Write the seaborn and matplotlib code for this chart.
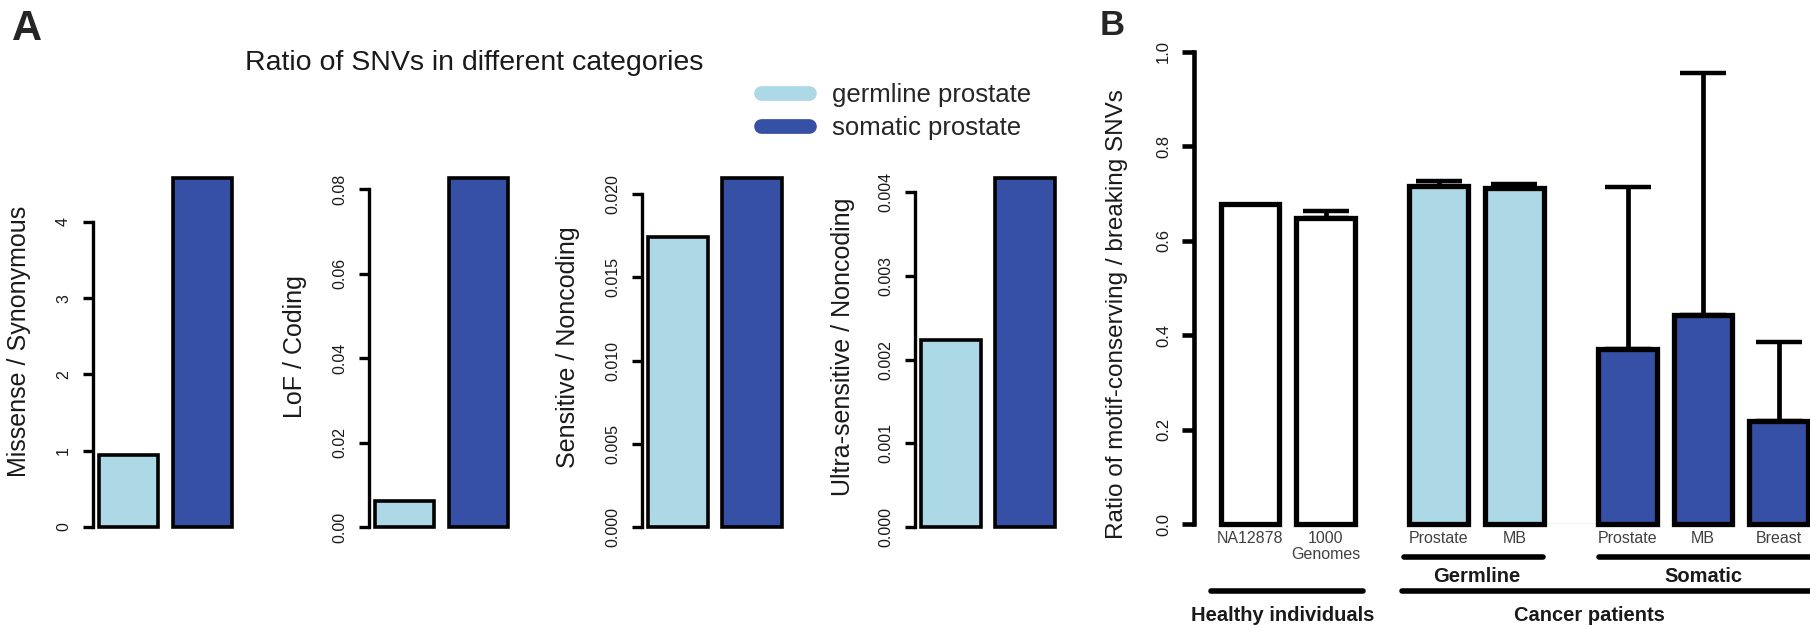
import numpy as np
import pandas as pd
import matplotlib
matplotlib.use("Agg")
import matplotlib.pyplot as plt
from matplotlib.lines import Line2D
from matplotlib.ticker import FixedLocator, FormatStrFormatter
import seaborn as sns

# ---------------- data: panel A (ratio of SNVs per category) ----------------
snv_groups = ["germline prostate", "somatic prostate"]
missense_synonymous = [0.944, 4.57]
lof_coding = [0.0062, 0.0826]
sensitive_noncoding = [0.01745, 0.02096]
ultra_sensitive_noncoding = [0.00223, 0.004167]
panel_a_ylabels = ["Missense / Synonymous", "LoF / Coding",
                   "Sensitive / Noncoding", "Ultra-sensitive / Noncoding"]
panel_a_ticks = [[0, 1, 2, 3, 4],
                 [0, 0.02, 0.04, 0.06, 0.08],
                 [0, 0.005, 0.010, 0.015, 0.020],
                 [0, 0.001, 0.002, 0.003, 0.004]]
panel_a_formats = ["%d", "%.2f", "%.3f", "%.3f"]

# ---------------- data: panel B (motif-conserving / breaking) ----------------
sample_labels = ["NA12878", "1000\nGenomes", "Prostate", "MB", "Prostate", "MB", "Breast"]
sample_groups = ["healthy", "healthy", "germline", "germline", "somatic", "somatic", "somatic"]
motif_ratio = [0.677, 0.647, 0.715, 0.712, 0.370, 0.443, 0.219]
motif_ratio_err = [None, 0.015, 0.011, 0.008, 0.344, 0.512, 0.166]
panel_b_ticks = [0.0, 0.2, 0.4, 0.6, 0.8, 1.0]

# ---------------- style ----------------
LIGHT = "#ADD8E6"
DARK = "#3550A5"
group_palette = {"healthy": "white", "germline": LIGHT, "somatic": DARK}

sns.set_theme(style="white")
plt.rcParams["font.family"] = ["Liberation Sans", "DejaVu Sans"]

W, H = 1810, 625
fig = plt.figure(figsize=(W / 100, H / 100), dpi=100)


def px_axes(left, top, right, bottom):
    return fig.add_axes([left / W, 1 - bottom / H, (right - left) / W, (bottom - top) / H])


def r_style_yaxis(ax, ticks, fmt, spine_w, tick_len, pad, size):
    for side in ("top", "right", "bottom"):
        ax.spines[side].set_visible(False)
    ax.spines["left"].set_bounds(ticks[0], ticks[-1])
    ax.spines["left"].set_linewidth(spine_w)
    ax.spines["left"].set_color("black")
    ax.yaxis.set_major_locator(FixedLocator(ticks))
    ax.yaxis.set_major_formatter(FormatStrFormatter(fmt))
    ax.tick_params(axis="y", left=True, length=tick_len, width=spine_w, color="black",
                   pad=pad, labelsize=size, labelcolor="#1a1a1a")
    plt.setp(ax.get_yticklabels(), rotation=90, va="center")
    ax.tick_params(axis="x", bottom=False, labelbottom=False)
    ax.set_xlabel("")
    ax.grid(False)


# ---------------- panel A ----------------
pitch_a = 74.0
first_a = 0.486
xmax_a = 1.6
axis_x_a = [92.5, 368.5, 642.0, 915.0]
label_y_a = [341, 347, 347, 347]
label_x_a = [19.1, 294.7, 567.9, 842.9]
series_a = [missense_synonymous, lof_coding, sensitive_noncoding, ultra_sensitive_noncoding]
top_a, base_a = 178.3, 527.0

for i, vals in enumerate(series_a):
    left = axis_x_a[i]
    right = left + (first_a + xmax_a) * pitch_a
    ax = px_axes(left, top_a, right, base_a)
    df = pd.DataFrame({"group": snv_groups, "value": vals})
    sns.barplot(data=df, x="group", y="value", hue="group",
                palette=[LIGHT, DARK], saturation=1, width=0.8, edgecolor="black",
                linewidth=2.6, legend=False, ax=ax)
    for p in ax.patches:
        p.set_clip_on(False)
    ax.set_xlim(-first_a, xmax_a)
    ax.set_ylim(0, max(vals))
    r_style_yaxis(ax, panel_a_ticks[i], panel_a_formats[i], 2.4, 7.2, 8.3, 11.5)
    ax.set_ylabel(panel_a_ylabels[i], fontsize=18, va="center", color="#1a1a1a")
    ax.yaxis.set_label_coords((label_x_a[i] - left) / (right - left),
                              (base_a - label_y_a[i]) / (base_a - top_a))

fig.text(474.5 / W, 1 - 70 / H, "Ratio of SNVs in different categories",
         ha="center", va="baseline", fontsize=20.5, color="#1a1a1a")

handles = [Line2D([0], [0], color=LIGHT, lw=10.6, solid_capstyle="round"),
           Line2D([0], [0], color=DARK, lw=10.6, solid_capstyle="round")]
fig.legend(handles, snv_groups, loc="center left",
           bbox_to_anchor=(761.4 / W, 1 - 111.5 / H), frameon=False,
           fontsize=18.5, handlelength=1.87, handletextpad=0.88,
           labelspacing=0.32, borderpad=0, borderaxespad=0)

fig.text(12 / W, 1 - 40 / H, "A", fontsize=30, fontweight="bold", va="baseline")

# ---------------- panel B ----------------
sample_slots = [0, 1, 2.5, 3.5, 5, 6, 7]
pitch_b = 75.5
first_b = 0.742
xmax_b = 7.6
left_b = 1194.0
right_b = left_b + (first_b + xmax_b) * pitch_b
top_b, base_b = 51.7, 524.0
axb = px_axes(left_b, top_b, right_b, base_b)

dfb = pd.DataFrame({"slot": sample_slots, "ratio": motif_ratio, "group": sample_groups})
sns.barplot(data=dfb, x="slot", y="ratio", hue="group", palette=group_palette,
            saturation=1, native_scale=True, dodge=False, width=0.78, edgecolor="black",
            linewidth=3.8, legend=False, errorbar=None, ax=axb)
for p in axb.patches:
    p.set_clip_on(False)
    p.set_zorder(2)

err_x = [s for s, e in zip(sample_slots, motif_ratio_err) if e is not None]
err_y = [v for v, e in zip(motif_ratio, motif_ratio_err) if e is not None]
err_up = [e for e in motif_ratio_err if e is not None]
axb.errorbar(err_x, err_y, yerr=[np.zeros(len(err_up)), err_up], fmt="none",
             ecolor="black", elinewidth=3.4, capsize=16.5, capthick=3.2, zorder=1)

# thin baseline between the germline and somatic blocks
axb.hlines(0, 3.9, 4.6, color="#c8c8c8", lw=1.0, zorder=0.5)

axb.set_xlim(-first_b, xmax_b)
axb.set_ylim(0, 1.0)
r_style_yaxis(axb, panel_b_ticks, "%.1f", 3.3, 8.4, 8.2, 12)
axb.set_xticks(sample_slots)
axb.set_xticklabels(sample_labels, linespacing=1.1)
axb.tick_params(axis="x", bottom=False, labelbottom=True, length=0, pad=5,
                labelsize=11.5, labelcolor="#404040")
axb.set_ylabel("Ratio of motif-conserving / breaking SNVs", fontsize=17.5,
               va="center", color="#1a1a1a")
axb.yaxis.set_label_coords((1117 - left_b) / (right_b - left_b),
                           (base_b - 314.5) / (base_b - top_b))


def yfrac(py):
    return (base_b - py) / (base_b - top_b)


trans = axb.get_xaxis_transform()
brackets = [((2.04, 3.88), 556.7, "Germline", 3.0, 581.7),
            ((4.62, 9.0), 556.7, "Somatic", 6.0, 581.7),
            ((-0.52, 1.50), 590.7, "Healthy individuals", 0.43, 620.7),
            ((2.01, 9.0), 590.7, "Cancer patients", 4.5, 620.7)]
for (x0, x1), ly, text, tx, ty in brackets:
    axb.plot([x0, x1], [yfrac(ly), yfrac(ly)], transform=trans, color="black",
             lw=4.0, solid_capstyle="round", clip_on=False)
    axb.text(tx, yfrac(ty), text, transform=trans, ha="center", va="baseline",
             fontsize=14.5, fontweight="bold", color="#1a1a1a")

fig.text(1100 / W, 1 - 35 / H, "B", fontsize=25, fontweight="bold", va="baseline")

fig.savefig("out.png", dpi=100)
